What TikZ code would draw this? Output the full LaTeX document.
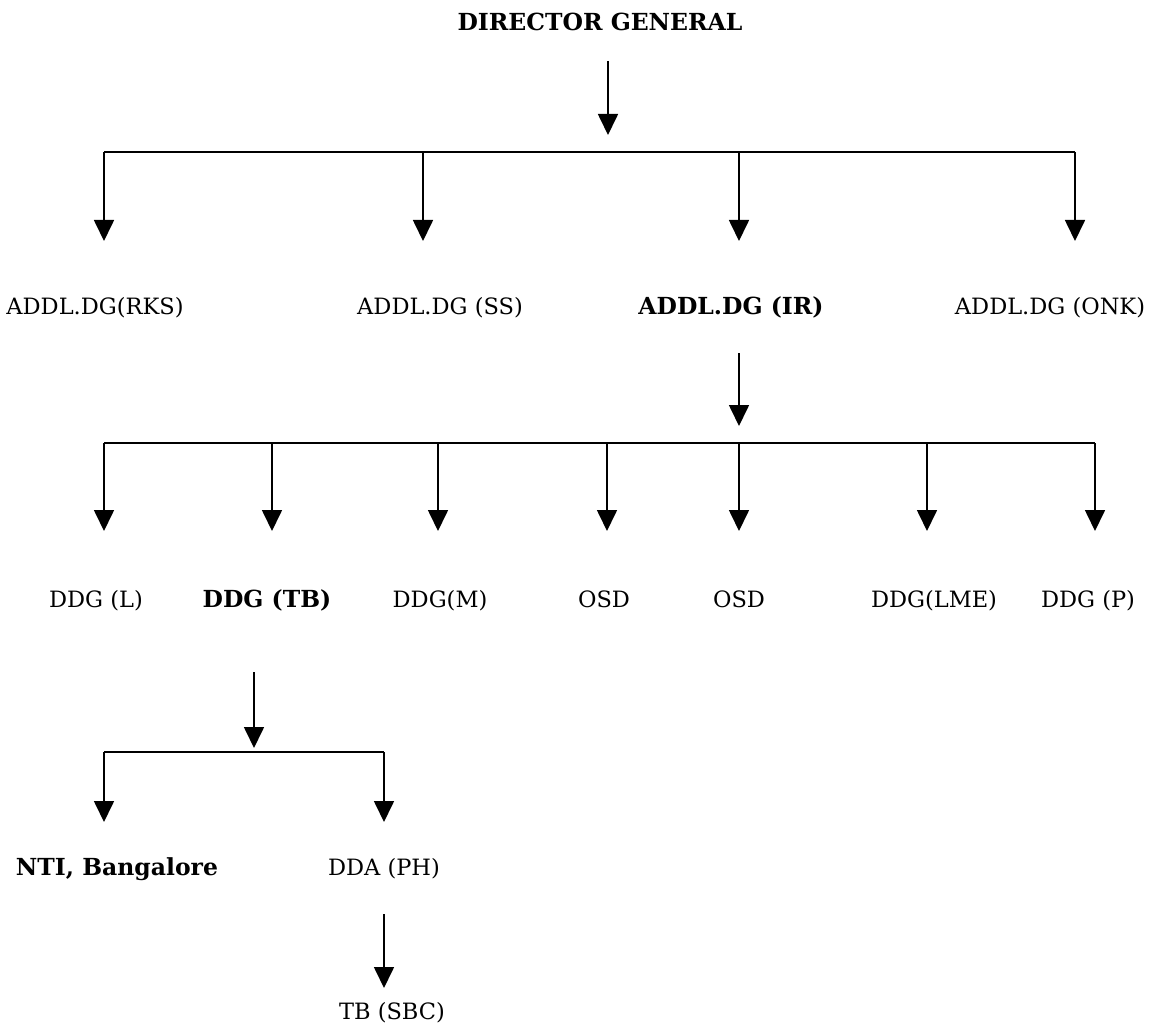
\documentclass[tikz,border=0pt]{standalone}
\usepackage{fontspec}
\setmainfont{DejaVu Serif}
\usetikzlibrary{arrows.meta}
\tikzset{
  lbl/.style={font=\fontsize{22.5}{26}\selectfont, inner sep=0pt, anchor=base},
  blbl/.style={lbl, font=\fontsize{23.5}{27}\selectfont\bfseries},
  ln/.style={line width=1.7pt},
  arr/.style={ln, -{Triangle[width=20pt,length=21pt]}}
}
\begin{document}
\begin{tikzpicture}[x=1pt,y=-1pt]
\useasboundingbox (0,0) rectangle (1160,1027);
% labels
\node[blbl] (dg) at (600,31) {DIRECTOR GENERAL};
\node[lbl] (rks) at (95,314) {ADDL.DG(RKS)};
\node[lbl] (ss) at (440,314) {ADDL.DG (SS)};
\node[blbl] (ir) at (731,314) {ADDL.DG (IR)};
\node[lbl] (onk) at (1050,314) {ADDL.DG (ONK)};
\node[lbl] (ddgl) at (96,607) {DDG (L)};
\node[blbl] (ddgtb) at (267,607) {DDG (TB)};
\node[lbl] (ddgm) at (440,607) {DDG(M)};
\node[lbl] (osda) at (604,607) {OSD};
\node[lbl] (osdb) at (739,607) {OSD};
\node[lbl] (ddglme) at (934,607) {DDG(LME)};
\node[lbl] (ddgp) at (1088,607) {DDG (P)};
\node[blbl] (nti) at (117,875) {NTI, Bangalore};
\node[lbl] (dda) at (384,875) {DDA (PH)};
\node[lbl] (tb) at (392,1019) {TB (SBC)};
% coordinates
\coordinate (dgs) at (608,61);
\coordinate (dge) at (608,135);
\coordinate (b1l) at (104,152);
\coordinate (b1r) at (1075,152);
\coordinate (b1a) at (423,152);
\coordinate (b1b) at (739,152);
\coordinate (t1l) at (104,241);
\coordinate (t1a) at (423,241);
\coordinate (t1b) at (739,241);
\coordinate (t1r) at (1075,241);
\coordinate (irs) at (739,353);
\coordinate (ire) at (739,426);
\coordinate (b2l) at (104,443);
\coordinate (b2r) at (1095,443);
\foreach \n/\x in {a/104,b/272,c/438,d/607,e/739,f/927,g/1095}{
  \coordinate (b2\n) at (\x,443);
  \coordinate (t2\n) at (\x,531);
}
\coordinate (tbs) at (254,672);
\coordinate (tbe) at (254,748);
\coordinate (b3l) at (104,752);
\coordinate (b3r) at (384,752);
\coordinate (t3l) at (104,822);
\coordinate (t3r) at (384,822);
\coordinate (das) at (384,914);
\coordinate (dae) at (384,988);
% connectors
\draw[arr] (dgs) -- (dge);
\draw[ln] (b1l) -- (b1r);
\draw[arr] (b1l) -- (t1l);
\draw[arr] (b1a) -- (t1a);
\draw[arr] (b1b) -- (t1b);
\draw[arr] (b1r) -- (t1r);
\draw[arr] (irs) -- (ire);
\draw[ln] (b2l) -- (b2r);
\foreach \n in {a,b,c,d,e,f,g}{ \draw[arr] (b2\n) -- (t2\n); }
\draw[arr] (tbs) -- (tbe);
\draw[ln] (b3l) -- (b3r);
\draw[arr] (b3l) -- (t3l);
\draw[arr] (b3r) -- (t3r);
\draw[arr] (das) -- (dae);
\end{tikzpicture}
\end{document}
